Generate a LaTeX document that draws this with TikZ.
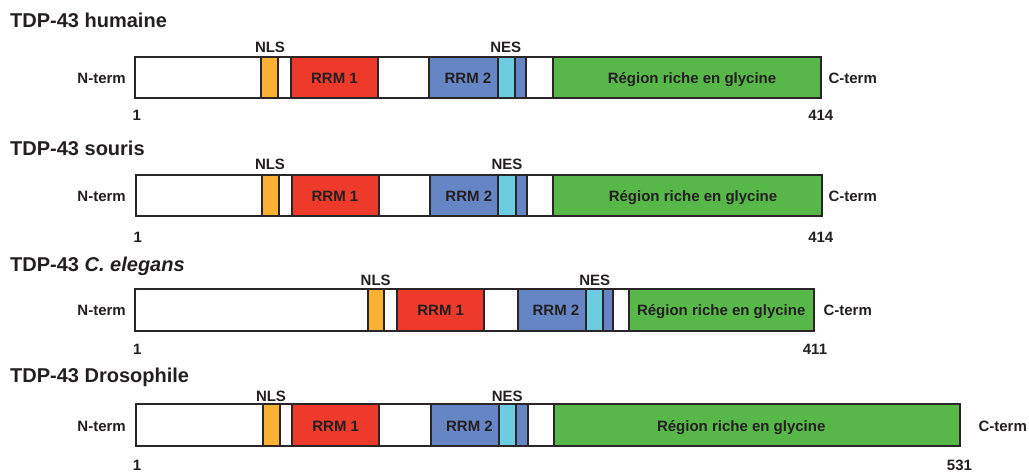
\documentclass[tikz,border=0pt]{standalone}
\usepackage{fontspec}
\setmainfont{Liberation Sans}
\definecolor{ink}{HTML}{231F20}
\definecolor{edge}{HTML}{2A2627}
\definecolor{nlsorange}{HTML}{FBB234}
\definecolor{rrmred}{HTML}{EE3A2B}
\definecolor{rrmblue}{HTML}{6685C4}
\definecolor{nescyan}{HTML}{6CCCE0}
\definecolor{glygreen}{HTML}{57B849}
\begin{document}
\begin{tikzpicture}[x=1pt,y=-1pt,
  seg/.style={draw=edge,line width=2pt},
  lbl/.style={font=\fontsize{15}{18}\selectfont\bfseries,text=ink,inner sep=0pt,text height=10.7pt,text depth=0pt},
  ttl/.style={font=\fontsize{20}{24}\selectfont\bfseries,text=ink,inner sep=0pt,anchor=base west}]
\useasboundingbox (0,0) rectangle (1029,472);
% TDP-43 humaine
\def\t{57} \def\b{98.3} \def\m{78.5}
\node[ttl] (t1) at (10,27.7) {TDP-43 humaine};
\draw[seg,fill=white] (135,\t) rectangle (821,\b);
\draw[seg,fill=nlsorange] (260.7,\t) rectangle (277.7,\b);
\draw[seg,fill=rrmred] (291,\t) rectangle (377.7,\b);
\draw[seg,fill=rrmblue] (429.3,\t) rectangle (497.7,\b);
\draw[seg,fill=nescyan] (497.7,\t) rectangle (515,\b);
\draw[seg,fill=rrmblue] (515,\t) rectangle (526,\b);
\draw[seg,fill=glygreen] (552.7,\t) rectangle (821,\b);
\node[lbl,anchor=east] (n1) at (126,\m) {N-term};
\node[lbl,anchor=west] (c1) at (828.3,\m) {C-term};
\node[lbl] (nls1) at (270,47.3) {NLS};
\node[lbl] (nes1) at (505.8,47.3) {NES};
\node[lbl] (ra1) at (334.5,\m) {RRM 1};
\node[lbl] (rb1) at (468,\m) {RRM 2};
\node[lbl] (g1) at (692,\m) {Région riche en glycine};
\node[lbl] (s1) at (136.7,114.7) {1};
\node[lbl] (e1) at (820.8,114.7) {414};
% TDP-43 souris
\def\t{175} \def\b{216} \def\m{196.3}
\node[ttl] (t2) at (10,155) {TDP-43 souris};
\draw[seg,fill=white] (136,\t) rectangle (822.3,\b);
\draw[seg,fill=nlsorange] (262.3,\t) rectangle (279.3,\b);
\draw[seg,fill=rrmred] (291.7,\t) rectangle (379,\b);
\draw[seg,fill=rrmblue] (430,\t) rectangle (498.3,\b);
\draw[seg,fill=nescyan] (498.3,\t) rectangle (515.7,\b);
\draw[seg,fill=rrmblue] (515.7,\t) rectangle (527.3,\b);
\draw[seg,fill=glygreen] (552.7,\t) rectangle (822.3,\b);
\node[lbl,anchor=east] (n2) at (126,\m) {N-term};
\node[lbl,anchor=west] (c2) at (828.3,\m) {C-term};
\node[lbl] (nls2) at (270,164.6) {NLS};
\node[lbl] (nes2) at (507,164.6) {NES};
\node[lbl] (ra2) at (335,\m) {RRM 1};
\node[lbl] (rb2) at (468.8,\m) {RRM 2};
\node[lbl] (g2) at (693,\m) {Région riche en glycine};
\node[lbl] (s2) at (137.8,236.7) {1};
\node[lbl] (e2) at (820.8,236.7) {414};
% TDP-43 C. elegans
\def\t{289.3} \def\b{330.5} \def\m{310.5}
\node[ttl] (t3) at (10,271.7) {TDP-43 \itshape C. elegans};
\draw[seg,fill=white] (135.3,\t) rectangle (814,\b);
\draw[seg,fill=nlsorange] (368.3,\t) rectangle (384.3,\b);
\draw[seg,fill=rrmred] (397.3,\t) rectangle (484,\b);
\draw[seg,fill=rrmblue] (518.3,\t) rectangle (586,\b);
\draw[seg,fill=nescyan] (586,\t) rectangle (602.7,\b);
\draw[seg,fill=rrmblue] (602.7,\t) rectangle (613.3,\b);
\draw[seg,fill=glygreen] (629,\t) rectangle (814,\b);
\node[lbl,anchor=east] (n3) at (126,\m) {N-term};
\node[lbl,anchor=west] (c3) at (823.3,\m) {C-term};
\node[lbl] (nls3) at (375.7,280.5) {NLS};
\node[lbl] (nes3) at (594.7,280.5) {NES};
\node[lbl] (ra3) at (440.7,\m) {RRM 1};
\node[lbl] (rb3) at (556,\m) {RRM 2};
\node[lbl] (g3) at (721.2,\m) {Région riche en glycine};
\node[lbl] (s3) at (137.2,349) {1};
\node[lbl] (e3) at (815,349) {411};
% TDP-43 Drosophile
\def\t{404.3} \def\b{446.3} \def\m{426}
\node[ttl] (t4) at (10,382.5) {TDP-43 Drosophile};
\draw[seg,fill=white] (136,\t) rectangle (960,\b);
\draw[seg,fill=nlsorange] (263.3,\t) rectangle (280,\b);
\draw[seg,fill=rrmred] (292.3,\t) rectangle (379.3,\b);
\draw[seg,fill=rrmblue] (431,\t) rectangle (499,\b);
\draw[seg,fill=nescyan] (499,\t) rectangle (516,\b);
\draw[seg,fill=rrmblue] (516,\t) rectangle (527.7,\b);
\draw[seg,fill=glygreen] (554.3,\t) rectangle (960,\b);
\node[lbl,anchor=east] (n4) at (126,\m) {N-term};
\node[lbl,anchor=west] (c4) at (978.3,\m) {C-term};
\node[lbl] (nls4) at (271,396) {NLS};
\node[lbl] (nes4) at (507.2,396) {NES};
\node[lbl] (ra4) at (335.7,\m) {RRM 1};
\node[lbl] (rb4) at (469.5,\m) {RRM 2};
\node[lbl] (g4) at (741.2,\m) {Région riche en glycine};
\node[lbl] (s4) at (137,465) {1};
\node[lbl] (e4) at (959.5,465) {531};
\end{tikzpicture}
\end{document}
